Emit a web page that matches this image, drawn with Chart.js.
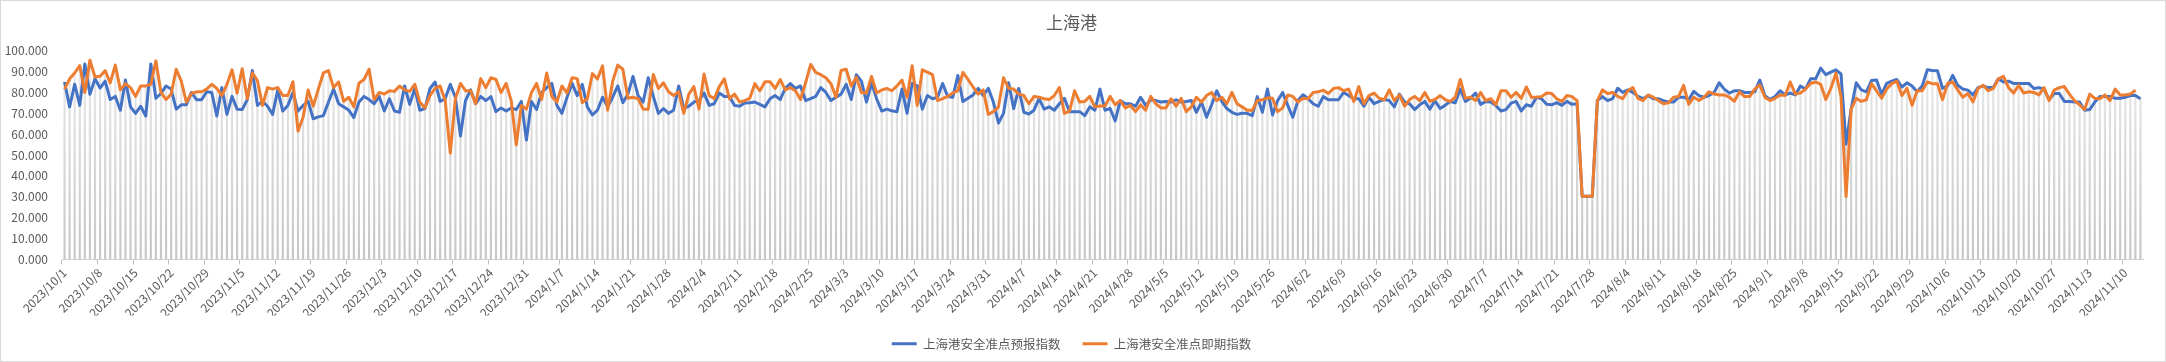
<!DOCTYPE html>
<html>
<head>
<meta charset="utf-8">
<script src="https://cdn.jsdelivr.net/npm/chart.js@4.4.1/dist/chart.umd.min.js"></script>
<style>
  html, body { margin: 0; padding: 0; background: #fff; }
  #wrap { position: relative; width: 2166px; height: 362px; }
  #wrap canvas { position: absolute; left: 0; top: 0; }
  #frame { position: absolute; left: 0; top: 0; width: 2166px; height: 362px; box-sizing: border-box;
           border: 1px solid #d9d9d9; pointer-events: none; }
</style>
</head>
<body>
<div id="wrap"><canvas id="c" width="2166" height="362"></canvas><div id="frame"></div></div>
<script>
/* 上海港 安全准点指数 — 日度, 2023/10/1 起 */
var START_Y = 2023, START_M = 10, START_D = 1;
var TITLE = '上海港';
var NAME_FORECAST = '上海港安全准点预报指数';
var NAME_ACTUAL = '上海港安全准点即期指数';
var Y_TICKS = [0, 10, 20, 30, 40, 50, 60, 70, 80, 90, 100];

// 预报指数 (蓝)
var forecast = [
  84.9, 73, 83.8, 73.7, 93.5, 79, 86.4, 82, 85.3, 76.5,
  78, 71.4, 85.8, 73, 69.9, 73.3, 68.6, 93.5, 77.1, 79.4,
  83, 81.5, 71.9, 74, 74, 79.9, 76.4, 76.4, 80.2, 79.9,
  68.6, 82.2, 69.4, 78, 71.9, 71.7, 76.4, 90.4, 73.7, 75.6,
  73.3, 69.4, 81.1, 71, 73.7, 79.9, 71, 73.7, 75.6, 67.3,
  68.2, 68.8, 75.3, 81.5, 74.5, 73, 71.4, 67.9, 75.3, 78,
  76.5, 74.5, 78, 71, 76.9, 71, 70.4, 83, 74.2, 81.8,
  71.4, 72.2, 81.8, 84.9, 75.6, 76.9, 83.8, 77.6, 59.1, 76,
  81.1, 74.5, 78, 76, 77.9, 70.7, 72.5, 71, 72.5, 71.7,
  75.6, 57.1, 75.6, 71.7, 79.9, 82.2, 84.2, 73.7, 69.9, 77.6,
  84.2, 78.4, 83.8, 73, 69.1, 71.4, 77.6, 73, 77.6, 83,
  75, 79.1, 87.6, 78.4, 75.3, 86.9, 78, 69.9, 72.2, 69.9,
  71.4, 83, 72.2, 73.3, 75.3, 76, 79.6, 73.7, 74.5, 79.6,
  78, 77.9, 73.7, 73.3, 74.8, 75, 75.3, 74.2, 73, 76.9,
  78.4, 76.5, 81.8, 84.1, 81.8, 83, 76, 76.9, 78, 82.2,
  79.9, 76, 77.6, 79.1, 83.8, 76.5, 88.4, 85.3, 75.3, 84.5,
  76.9, 71, 71.9, 71.1, 70.7, 81.5, 69.9, 84.2, 83, 71.9,
  78.4, 76.9, 77.6, 84.2, 78, 77.6, 88, 75.6, 77.1, 78.7,
  81.8, 78.4, 81.9, 75.3, 65.3, 69.9, 84.5, 72.2, 81.8, 70.4,
  69.6, 71.4, 76.9, 71.9, 73, 71.4, 74.5, 77.1, 70.7, 70.7,
  70.7, 68.8, 73, 71.4, 81.5, 71.4, 72.2, 66.3, 76, 74.5,
  74.5, 73.3, 77.6, 73.7, 76.4, 76, 75.3, 75.6, 75.3, 76.4,
  75.3, 75.6, 76, 70.4, 75.3, 68, 74, 80.7, 75.6, 72.2,
  70.4, 69.4, 69.9, 69.9, 68.8, 77.9, 70.4, 81.5, 69.1, 76,
  79.9, 73.7, 68, 76, 78.8, 76.9, 74.5, 73.3, 77.9, 76.4,
  76.4, 76.4, 79.9, 78.4, 76.9, 76.9, 73.3, 77.6, 74.5, 75.6,
  76.5, 76, 73, 79.1, 75.3, 74.5, 71.7, 74, 75.6, 71.9,
  76, 72.2, 73.7, 75.6, 75, 81.5, 75.6, 77.1, 79.6, 74.2,
  75.6, 75.3, 73.7, 71, 71.7, 74.8, 75.6, 71, 74, 73.3,
  77.6, 76.9, 74.2, 74, 75, 73.7, 75.6, 74.2, 74.5, 30.2,
  30.2, 30.2, 76, 77.9, 76, 76.9, 81.9, 79.9, 81.1, 79.9,
  78, 76.9, 78.4, 76.9, 76.9, 76, 75.3, 75.3, 77.6, 77.6,
  76.5, 80.4, 78.4, 77.6, 78.4, 79.9, 84.5, 81.5, 79.6, 80.7,
  80.7, 79.9, 79.9, 80.2, 85.8, 78.4, 76.5, 78, 80.7, 78.7,
  79.6, 78.7, 83, 81.5, 86.4, 86.4, 91.5, 88.4, 89.6, 90.7,
  88.7, 55.2, 72, 84.5, 81.1, 80.2, 85.6, 85.8, 79.1, 84.2,
  85.3, 86.1, 82.5, 84.5, 83, 80.2, 83, 90.7, 90.4, 90.3,
  81.9, 83, 88.1, 83.3, 81.5, 81, 78.7, 82.2, 83, 82.2,
  82.2, 86.4, 84.9, 85.3, 84.2, 84.2, 84.2, 84.2, 81.8, 82.2,
  81.5, 76.5, 79.4, 79.4, 75.6, 75.6, 75.3, 75.3, 71.4, 71.7,
  75.3, 78, 78, 78, 77.1, 77.1, 77.6, 78.4, 78.4, 76.9
];

// 即期指数 (橙), 最后一天尚无数据
var actual = [
  81.5, 86.4, 89.2, 92.7, 79.9, 95.3, 87.3, 87.6, 90.3, 84.5,
  93, 81.1, 84.1, 82.2, 78, 83, 83, 83.8, 95, 79.9,
  76.5, 79.1, 91, 85.3, 75.3, 79.4, 80.2, 80.2, 81.5, 83.8,
  81.8, 78.4, 83.8, 90.7, 79.6, 91.2, 76.9, 89.2, 85.6, 73.7,
  82.2, 81.5, 82.2, 78.4, 78.4, 85, 61.4, 68, 81.1, 73.3,
  81.5, 89.2, 90.3, 82.2, 84.9, 75.6, 77.6, 73, 84.3, 86.1,
  91, 76.5, 79.9, 79.1, 80.7, 80.4, 83, 81.1, 80.4, 83.8,
  75.3, 72.5, 78.4, 81.8, 83, 76, 50.9, 76.9, 84.2, 80.7,
  80.7, 74.5, 86.5, 82.2, 86.9, 86.1, 79.9, 84.2, 76, 54.9,
  73.7, 71.9, 79.9, 84.2, 76.5, 89.2, 78, 75.3, 83, 79.6,
  86.9, 86.5, 75, 76.9, 88.9, 86.4, 92.6, 71.4, 85.3, 93,
  91, 77.1, 77.6, 76.9, 71.9, 71.9, 88.5, 81.8, 84.5, 80.2,
  78.4, 80.2, 69.9, 79.1, 82.7, 71.9, 88.7, 78.4, 76.9, 82.7,
  86.4, 76.9, 79.1, 75.3, 76, 77.1, 84.1, 80.7, 85, 85,
  81.8, 86.1, 81.1, 82.2, 80.7, 76.5, 84.5, 93.3, 89.5, 88.4,
  86.9, 84.1, 77.6, 90.4, 91, 83, 87.2, 79.9, 79.6, 87.6,
  79.6, 81.1, 81.8, 80.7, 83, 85.8, 77.6, 92.7, 73.7, 90.7,
  89.6, 88.4, 76, 76.9, 78, 79.6, 80.7, 89.5, 86.1, 82.5,
  79.1, 81.1, 69.4, 70.7, 73, 86.9, 81.8, 81.5, 79.1, 78.4,
  74.5, 78, 77.6, 76.9, 76.5, 78.4, 82.2, 69.9, 71, 80.7,
  75.3, 75.6, 78, 73, 73.4, 73.4, 78, 74, 76, 72.5,
  73.7, 70.7, 74, 71.4, 78, 74.5, 72.5, 72.5, 76.9, 73.3,
  77.1, 70.7, 73, 77.6, 75.3, 78.4, 79.9, 76, 77.6, 74.5,
  79.9, 74.5, 73, 71.4, 71.4, 76, 76.4, 77.3, 77.1, 70.7,
  72.5, 78.7, 78, 75.3, 77.1, 76.9, 79.9, 80.2, 81, 79.4,
  81.8, 82.2, 80.7, 81.5, 75.6, 82.7, 74.5, 78.4, 79.6, 77.1,
  76.4, 81.1, 76, 78.7, 73.3, 76.5, 78, 76, 79.9, 75.7,
  76.5, 78.4, 76.5, 75.6, 77.6, 86.1, 77.1, 77.6, 76, 79.9,
  76, 76.9, 74, 80.7, 80.7, 77.6, 79.9, 77.1, 82.5, 77.6,
  77.6, 77.9, 79.6, 79.4, 76.9, 75.6, 78.4, 77.9, 76, 30.2,
  30.2, 30.2, 76, 81.1, 79.4, 79.9, 78, 76.9, 80.7, 82.2,
  77.1, 76, 78.7, 77.6, 76, 74.5, 75, 77.6, 78, 83.3,
  74.2, 77.6, 76, 77.6, 80.2, 79.1, 78.7, 78.7, 77.6, 75.7,
  80.2, 77.9, 77.9, 81.5, 83.5, 77.6, 76, 77.1, 78.7, 78.4,
  84.9, 79.1, 79.6, 81.5, 84.2, 84.9, 83.8, 76.5, 81.8, 89.2,
  78, 30.1, 71.9, 77.1, 75.6, 76.4, 84.1, 80.7, 77.1, 81.5,
  84.1, 85.3, 78.4, 81.8, 73.7, 80.7, 80.7, 84.9, 84.1, 84.1,
  76.4, 84.2, 84.9, 81.1, 77.6, 79.4, 75.3, 81.8, 83.3, 80.7,
  81.8, 86.4, 87.6, 82.2, 79.6, 83.3, 79.6, 80.2, 79.9, 78.7,
  82.2, 76, 81, 82.2, 82.7, 79.1, 76, 74, 71.7, 79.1,
  77.1, 76.9, 78.7, 76, 81.5, 78.7, 78.7, 79.1, 81, null
];

// 日期类别
var labels = [];
for (var i = 0; i < forecast.length; i++) {
  var d = new Date(START_Y, START_M - 1, START_D + i);
  labels.push(d.getFullYear() + '/' + (d.getMonth() + 1) + '/' + d.getDate());
}
// 垂直线: 每天两条指数中较高者落到 0
var dropTop = forecast.map(function (v, i) { return actual[i] == null ? v : Math.max(v, actual[i]); });

var FONT = '"Noto Sans CJK SC", "Noto Sans", sans-serif';
var TXT = '#595959';
var BLUE = '#4472C4', ORANGE = '#ED7D31';

Chart.defaults.font.family = FONT;
Chart.defaults.color = TXT;

new Chart(document.getElementById('c'), {
  type: 'bar',
  data: {
    labels: labels,
    datasets: [
      { type: 'line', label: NAME_FORECAST, data: forecast, borderColor: BLUE, backgroundColor: BLUE,
        borderWidth: 3, pointRadius: 0, tension: 0, order: 2, borderJoinStyle: 'round' },
      { type: 'line', label: NAME_ACTUAL, data: actual, borderColor: ORANGE, backgroundColor: ORANGE,
        borderWidth: 3, pointRadius: 0, tension: 0, order: 1, borderJoinStyle: 'round' },
      { type: 'bar', label: 'drop', data: dropTop, barThickness: 1.5, order: 3,
        backgroundColor: function (c) {
          var a = c.chart.chartArea;
          if (!a) return '#d4d4d4';
          var g = c.chart.ctx.createLinearGradient(0, a.top, 0, a.bottom);
          g.addColorStop(0, '#ececec');
          g.addColorStop(1, '#c6c6c6');
          return g;
        } }
    ]
  },
  options: {
    responsive: false,
    devicePixelRatio: 1,
    animation: false,
    layout: { padding: { left: 0, right: 23, top: 0, bottom: 2 } },
    plugins: {
      tooltip: { enabled: false },
      title: { display: true, text: TITLE, color: TXT, font: { size: 17, weight: 'normal' },
               padding: { top: 12, bottom: 18 } },
      legend: {
        position: 'bottom',
        labels: {
          boxWidth: 25, boxHeight: 3, padding: 22, color: TXT, font: { size: 12.5 },
          filter: function (it) { return it.datasetIndex < 2; },
          sort: function (a, b) { return a.datasetIndex - b.datasetIndex; },
          generateLabels: function (chart) {
            return Chart.defaults.plugins.legend.labels.generateLabels(chart).map(function (it) {
              it.lineWidth = 0; it.strokeStyle = 'rgba(0,0,0,0)'; return it;
            });
          }
        }
      }
    },
    scales: {
      x: {
        offset: true,
        grid: { display: true, offset: true, drawOnChartArea: false, drawTicks: true, tickLength: 5,
                color: function (c) { return c.index % 7 === 0 ? '#bfbfbf' : 'rgba(0,0,0,0)'; } },
        border: { display: true, color: '#d0d0d0' },
        ticks: {
          autoSkip: false, maxRotation: 45, minRotation: 45, padding: 1, color: TXT, font: { size: 12 },
          callback: function (v, idx) { return idx % 7 === 0 ? this.getLabelForValue(v) : ''; }
        },
        afterFit: function (s) { s.height = 56; }
      },
      y: {
        min: 0, max: 100,
        afterBuildTicks: function (s) { s.ticks = Y_TICKS.map(function (v) { return { value: v }; }); },
        grid: { display: false, drawTicks: false },
        border: { display: false },
        ticks: { padding: 14, color: TXT, font: { size: 12 },
                 callback: function (v) { return Number(v).toFixed(3); } },
        afterFit: function (s) { s.width = 62; }
      }
    }
  }
});
</script>
</body>
</html>
